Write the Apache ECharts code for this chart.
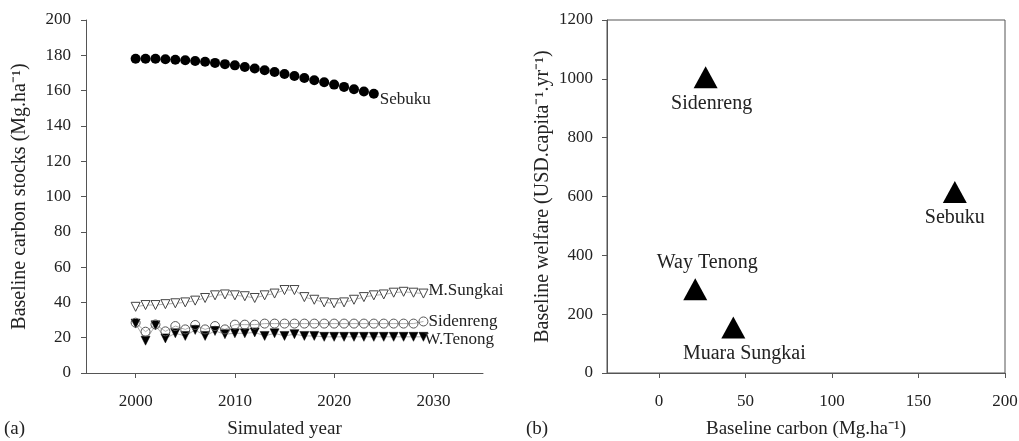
<!DOCTYPE html>
<html><head><meta charset="utf-8">
<script src="https://cdn.jsdelivr.net/npm/echarts@6/dist/echarts.min.js"></script>
<style>html,body{margin:0;padding:0;background:#fff}#c{width:1019px;height:441px}</style>
</head><body><div id="c"></div>
<script>
const years = [2000,2001,2002,2003,2004,2005,2006,2007,2008,2009,2010,2011,2012,2013,2014,2015,2016,2017,2018,2019,2020,2021,2022,2023,2024,2025,2026,2027,2028,2029];
const sebuku = [178,178,178,177.8,177.5,177.2,176.8,176.3,175.7,175,174.3,173.4,172.5,171.5,170.5,169.4,168.3,167.1,165.9,164.7,163.4,162.1,160.8,159.5,158.2];
const mSungkai = [37.5,38.5,38.5,39,39.5,40,41,42.5,44,44.5,44,43.5,42.5,44,45,47,47,43,41.5,40,39.5,40,41.5,43,44,44.5,45.5,46,45.5,45];
const sidenreng = [28.5,23.4,27.5,23.6,26.6,24.7,27.2,24.7,26.6,24.7,27.4,27.4,27.4,28,28,28,28,28,28,28,28,28,28,28,28,28,28,28,28,29.2];
const wTenong = [28,18.3,27,19.6,22.5,21,24.4,21,23.8,22,22.5,22.5,23,21,22.5,21,22,21,21,20.5,20.5,20.5,20.5,20.5,20.5,20.5,20.5,20.5,20.5,20.5];
const yearTicks = [2000,2010,2020,2030];
const carbonTicks = [0,50,100,150,200];
const sites = ['Sidenreng','Sebuku','Way Tenong','Muara Sungkai'];
const baselineCarbon = [27,171,21,43];
const baselineWelfare = [1005,615,285,155];
const siteLabelPos = ['bottom','bottom','top','bottom'];
const siteLabelShift = [6,0,12,11];

const F = 'Liberation Serif';
const txt = {fontFamily:F, fontSize:17, color:'#222', formatter:(v)=>String(v)};
const nameStyle = {fontFamily:F, fontSize:19, color:'#222'};
const yNameStyle = {fontFamily:F, fontSize:20, color:'#222'};
const axisLine = {show:true, onZero:false, lineStyle:{color:'#555', width:1}};
const tick = {show:true, inside:false, length:5, lineStyle:{color:'#555'}};

function pair(xs, ys){ return xs.map((x,i)=>[x, ys[i]]); }

const chart = echarts.init(document.getElementById('c'), null, {renderer:'canvas'});
chart.setOption({
  animation:false,
  textStyle:{fontFamily:F},
  grid:[
    {left:86, top:20, width:397, height:353, containLabel:false, outerBoundsMode:'none'},
    {left:607, top:20, width:398, height:353, containLabel:false, outerBoundsMode:'none', show:true, borderColor:'#555', borderWidth:1}
  ],
  xAxis:[
    {type:'value', gridIndex:0, min:1995, max:2035, splitLine:{show:false},
     axisLine:axisLine, axisTick:Object.assign({customValues:yearTicks},tick),
     axisLabel:Object.assign({customValues:yearTicks, margin:20},txt),
     name:'Simulated year', nameLocation:'middle', nameGap:47, nameTextStyle:nameStyle},
    {type:'value', gridIndex:1, min:-30, max:200, splitLine:{show:false},
     axisLine:axisLine, axisTick:Object.assign({customValues:carbonTicks},tick),
     axisLabel:Object.assign({customValues:carbonTicks, margin:20},txt),
     name:'Baseline carbon (Mg.ha\u207B\u00B9)', nameLocation:'middle', nameGap:47, nameTextStyle:nameStyle}
  ],
  yAxis:[
    {type:'value', gridIndex:0, min:0, max:200, interval:20, splitLine:{show:false},
     axisLine:axisLine, axisTick:tick, axisLabel:Object.assign({margin:15},txt),
     name:'Baseline carbon stocks (Mg.ha\u207B\u00B9)', nameLocation:'middle', nameGap:56, nameTextStyle:yNameStyle},
    {type:'value', gridIndex:1, min:0, max:1200, interval:200, splitLine:{show:false},
     axisLine:axisLine, axisTick:tick, axisLabel:Object.assign({margin:14},txt),
     name:'Baseline welfare (USD.capita\u207B\u00B9.yr\u207B\u00B9)', nameLocation:'middle', nameGap:54, nameTextStyle:yNameStyle}
  ],
  series:[
    {name:'M.Sungkai', type:'line', xAxisIndex:0, yAxisIndex:0, data:pair(years,mSungkai),
     symbol:'triangle', symbolRotate:180, symbolSize:9, lineStyle:{color:'#999',width:0.8},
     itemStyle:{color:'#fff', borderColor:'#444', borderWidth:1},
     endLabel:{show:true, formatter:'{a}', distance:5, fontFamily:F, fontSize:17, color:'#222', offset:[0,-3]}},
    {name:'W.Tenong', type:'line', xAxisIndex:0, yAxisIndex:0, data:pair(years,wTenong),
     symbol:'triangle', symbolRotate:180, symbolSize:9, lineStyle:{color:'#999',width:0.8},
     itemStyle:{color:'#000', borderColor:'#000', borderWidth:0.5},
     endLabel:{show:true, formatter:'{a}', distance:1, fontFamily:F, fontSize:17, color:'#222', offset:[0,3]}},
    {name:'Sidenreng', type:'line', xAxisIndex:0, yAxisIndex:0, data:pair(years,sidenreng),
     symbol:'circle', symbolSize:9, lineStyle:{color:'#999',width:0.8},
     itemStyle:{color:'rgba(0,0,0,0)', borderColor:'#555', borderWidth:1},
     endLabel:{show:true, formatter:'{a}', distance:5, fontFamily:F, fontSize:17, color:'#222', offset:[0,0]}},
    {name:'Sebuku', type:'line', xAxisIndex:0, yAxisIndex:0, data:pair(years.slice(0,sebuku.length),sebuku),
     symbol:'circle', symbolSize:10, lineStyle:{color:'#999',width:0.8},
     itemStyle:{color:'#000', borderColor:'#000', borderWidth:0},
     endLabel:{show:true, formatter:'{a}', distance:6, fontFamily:F, fontSize:17, color:'#222', offset:[0,6]}},
    {name:'sites', type:'scatter', xAxisIndex:1, yAxisIndex:1,
     data:sites.map((s,i)=>({name:s, value:[baselineCarbon[i],baselineWelfare[i]],
       label:{position:siteLabelPos[i], offset:[siteLabelShift[i],0]}})),
     symbol:'triangle', symbolSize:[24,22], itemStyle:{color:'#000', opacity:1},
     label:{show:true, formatter:'{b}', distance:5, fontFamily:F, fontSize:20, color:'#222'}}
  ],
  graphic:[
    {type:'text', left:4, top:420, style:{text:'(a)', font:'19px "Liberation Serif"', fill:'#222'}},
    {type:'text', left:526, top:420, style:{text:'(b)', font:'19px "Liberation Serif"', fill:'#222'}}
  ]
});
</script></body></html>
